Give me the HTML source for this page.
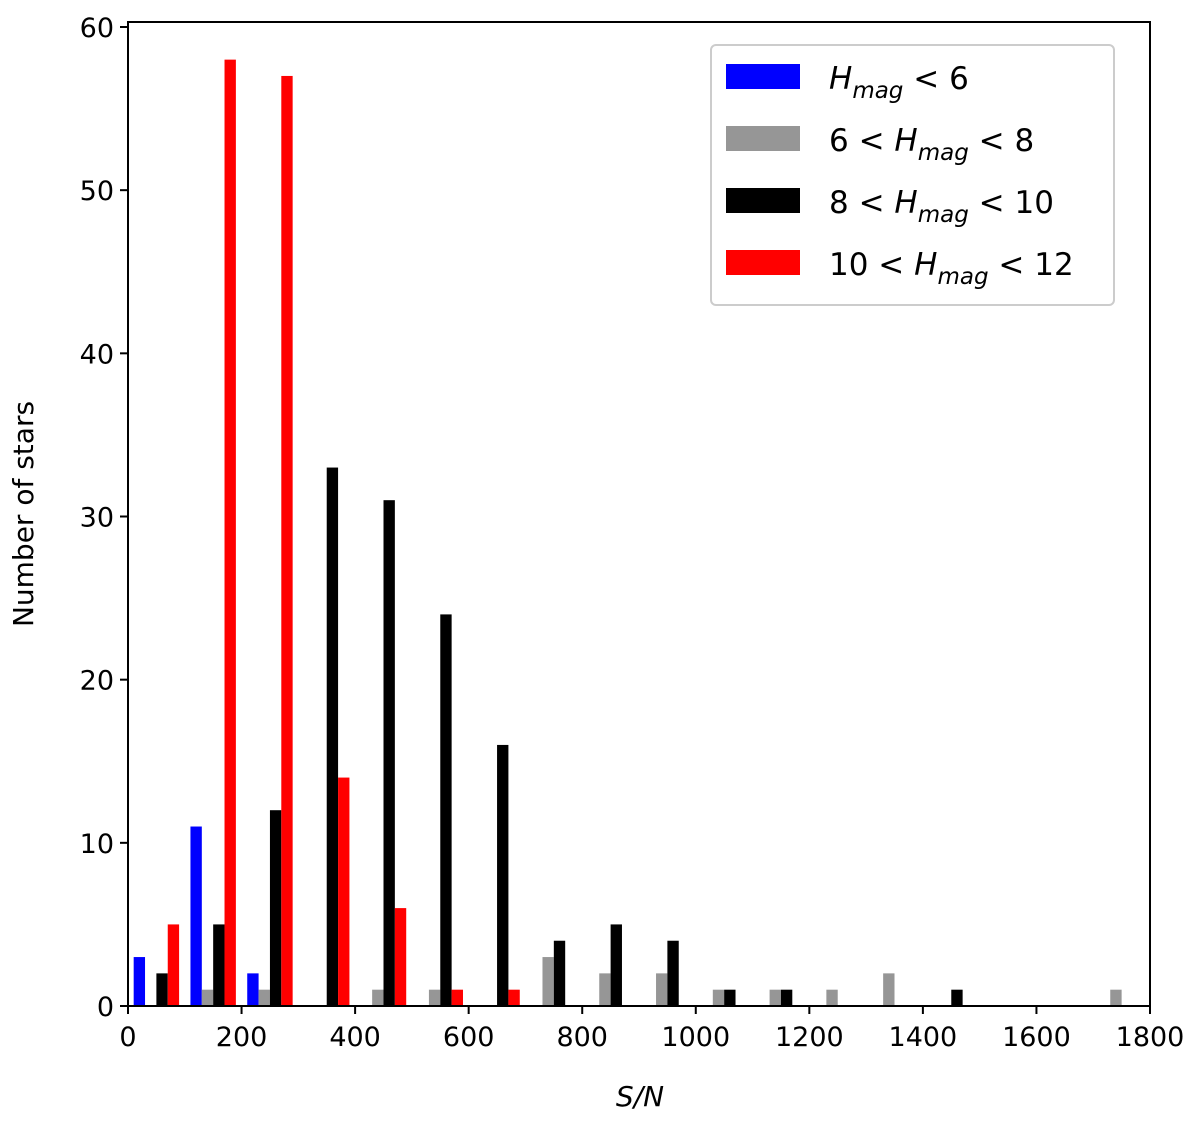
<!DOCTYPE html>
<html><head><meta charset="utf-8"><style>
body{margin:0;background:#fff;}
svg text{font-family:"DejaVu Sans","Liberation Sans",sans-serif;fill:#000;}
</style></head><body>
<svg id="chart" width="1200" height="1118" viewBox="0 0 1200 1118">
<g id="bars"></g>
<g id="axes"></g>
<text x="640" y="1106" font-size="28" font-style="italic" text-anchor="middle">S/N</text>
<text transform="translate(33,514) rotate(-90)" font-size="28" text-anchor="middle">Number of stars</text>
<g>
<rect x="711" y="45" width="403" height="260" rx="5" fill="#fff" stroke="#ccc" stroke-width="2"/>
<g><rect x="726" y="64" width="74" height="25" fill="#0000ff"/>
<text x="829" y="89" font-size="31"><tspan font-style="italic">H</tspan><tspan font-style="italic" font-size="23" dy="9">mag</tspan><tspan dy="-9"> &lt; 6</tspan></text></g>
<g><rect x="726" y="126" width="74" height="25" fill="#969696"/>
<text x="829" y="151" font-size="31">6 &lt; <tspan font-style="italic">H</tspan><tspan font-style="italic" font-size="23" dy="9">mag</tspan><tspan dy="-9"> &lt; 8</tspan></text></g>
<g><rect x="726" y="188" width="74" height="25" fill="#000"/>
<text x="829" y="213" font-size="31">8 &lt; <tspan font-style="italic">H</tspan><tspan font-style="italic" font-size="23" dy="9">mag</tspan><tspan dy="-9"> &lt; 10</tspan></text></g>
<g><rect x="726" y="250" width="74" height="25" fill="#ff0000"/>
<text x="829" y="275" font-size="31">10 &lt; <tspan font-style="italic">H</tspan><tspan font-style="italic" font-size="23" dy="9">mag</tspan><tspan dy="-9"> &lt; 12</tspan></text></g>
</g>
</svg>
<script>
const binStarts = [0,100,200,300,400,500,600,700,800,900,1000,1100,1200,1300,1400,1500,1600,1700];
const blueCounts  = [3,11,2,0,0,0,0,0,0,0,0,0,0,0,0,0,0,0];
const grayCounts  = [0,1,1,0,1,1,0,3,2,2,1,1,1,2,0,0,0,1];
const blackCounts = [2,5,12,33,31,24,16,4,5,4,1,1,0,0,1,0,0,0];
const redCounts   = [5,58,57,14,6,1,1,0,0,0,0,0,0,0,0,0,0,0];
const xTicks = [0,200,400,600,800,1000,1200,1400,1600,1800];
const yTicks = [0,10,20,30,40,50,60];

const NS="http://www.w3.org/2000/svg";
const L=128,R=1150,T=22,B=1006;
const xs=v=>L+(v/1800)*(R-L);
const ys=v=>B-v*(979/60);
const series=[[blueCounts,'#0000ff','blue'],[grayCounts,'#969696','gray'],[blackCounts,'#000000','black'],[redCounts,'#ff0000','red']];
const bars=document.getElementById('bars');
series.forEach((s,si)=>{
  s[0].forEach((c,i)=>{
    if(!c) return;
    const x0=binStarts[i]+10+si*20;
    const r=document.createElementNS(NS,'rect');
    r.setAttribute('x',xs(x0));r.setAttribute('width',xs(x0+20)-xs(x0));
    r.setAttribute('y',ys(c));r.setAttribute('height',B-ys(c));
    r.setAttribute('fill',s[1]);
    
    
    bars.appendChild(r);
  });
});
const ax=document.getElementById('axes');
const fr=document.createElementNS(NS,'rect');
fr.setAttribute('x',L);fr.setAttribute('y',T);fr.setAttribute('width',R-L);fr.setAttribute('height',B-T);
fr.setAttribute('fill','none');fr.setAttribute('stroke','#000');fr.setAttribute('stroke-width','2');


ax.appendChild(fr);
xTicks.forEach(v=>{
  const l=document.createElementNS(NS,'line');
  l.setAttribute('x1',xs(v));l.setAttribute('x2',xs(v));l.setAttribute('y1',B);l.setAttribute('y2',B+8);
  l.setAttribute('stroke','#000');l.setAttribute('stroke-width','2');
  
  
  ax.appendChild(l);
  const t=document.createElementNS(NS,'text');
  t.setAttribute('x',xs(v));t.setAttribute('y',B+40);t.setAttribute('font-size','27');t.setAttribute('text-anchor','middle');
  t.textContent=v;
  
  
  ax.appendChild(t);
});
yTicks.forEach(v=>{
  const l=document.createElementNS(NS,'line');
  l.setAttribute('x1',L-8);l.setAttribute('x2',L);l.setAttribute('y1',ys(v));l.setAttribute('y2',ys(v));
  l.setAttribute('stroke','#000');l.setAttribute('stroke-width','2');
  
  
  ax.appendChild(l);
  const t=document.createElementNS(NS,'text');
  t.setAttribute('x',L-14);t.setAttribute('y',ys(v)+10);t.setAttribute('font-size','27');t.setAttribute('text-anchor','end');
  t.textContent=v;
  
  
  ax.appendChild(t);
});
</script>
</body></html>
